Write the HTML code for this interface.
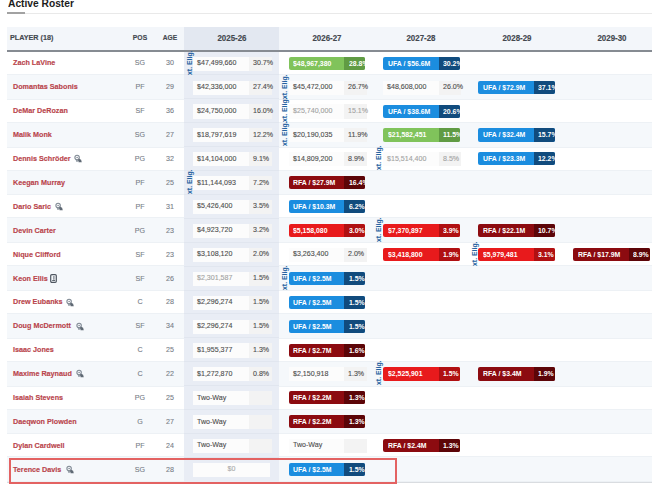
<!DOCTYPE html>
<html><head><meta charset='utf-8'><style>
*{margin:0;padding:0;box-sizing:border-box}
html,body{width:660px;height:490px;overflow:hidden;background:#fff;font-family:"Liberation Sans",sans-serif}
.a{position:absolute}
.t{white-space:nowrap}
.title{left:7.6px;top:-3px;font-size:11px;font-weight:bold;color:#1c1c1c;line-height:12px;transform-origin:0 0;transform:scaleX(0.93)}
.nm{font-size:8px;font-weight:bold;color:#b9444b;line-height:10px;transform-origin:0 50%;transform:scaleX(0.9);-webkit-text-stroke:0.15px #b9444b}
.hd{font-size:8px;font-weight:bold;color:#43484f;line-height:10px;transform-origin:0 50%;transform:scaleX(0.9);-webkit-text-stroke:0.15px #43484f}
.hdc{font-size:8.8px;font-weight:bold;color:#43484f;line-height:10px;transform-origin:50% 50%;transform:scaleX(0.9);-webkit-text-stroke:0.15px #43484f;text-align:center}
.pa{font-size:8px;color:#787e87;line-height:10px;text-align:center;width:30px;transform-origin:50% 50%;transform:scaleX(0.89);-webkit-text-stroke:0.12px #787e87}
.sal{font-size:8px;line-height:10px;transform-origin:0 50%;transform:scaleX(0.885);-webkit-text-stroke:0.12px currentColor}
.bt{font-size:7.8px;font-weight:bold;color:#fff;line-height:10px;transform-origin:0 50%;transform:scaleX(0.885)}
.ext{font-size:6.9px;font-weight:bold;color:#2462a0;line-height:7px;transform-origin:0 0;transform:rotate(-90deg)}
</style></head><body>
<div class="a t title">Active Roster</div>
<div class="a" style="left:7px;top:12px;width:18px;height:2px;background:#a2a2a2"></div>
<div class="a" style="left:25px;top:12.5px;width:627px;height:1px;background:#e9e9e9"></div>
<div class="a" style="left:7px;top:27.4px;width:645px;height:22.6px;background:#f3f6fa"></div>
<div class="a" style="left:184px;top:27.4px;width:95.4px;height:22.6px;background:#e3e8f1"></div>
<div class="a t hd" style="left:9.5px;top:32.9px">PLAYER (18)</div>
<div class="a t hdc" style="left:125px;top:32.9px;width:30px;font-size:7.8px;transform:scaleX(0.87)">POS</div>
<div class="a t hdc" style="left:155px;top:32.9px;width:30px;font-size:7.8px;transform:scaleX(0.85)">AGE</div>
<div class="a t hdc" style="left:184.70px;top:32.9px;width:94px">2025-26</div>
<div class="a t hdc" style="left:279.90px;top:32.9px;width:94px">2026-27</div>
<div class="a t hdc" style="left:374.40px;top:32.9px;width:94px">2027-28</div>
<div class="a t hdc" style="left:469.70px;top:32.9px;width:94px">2028-29</div>
<div class="a t hdc" style="left:564.50px;top:32.9px;width:94px">2029-30</div>
<div class="a" style="left:7px;top:52px;width:645px;height:430.20px;background:#fff"></div>
<div class="a" style="left:7px;top:73.95px;width:645px;height:25.90px;background:#f5f8fb;border-top:1px solid #edf1f5;border-bottom:1px solid #edf1f5"></div>
<div class="a" style="left:7px;top:121.75px;width:645px;height:25.90px;background:#f5f8fb;border-top:1px solid #edf1f5;border-bottom:1px solid #edf1f5"></div>
<div class="a" style="left:7px;top:169.55px;width:645px;height:25.90px;background:#f5f8fb;border-top:1px solid #edf1f5;border-bottom:1px solid #edf1f5"></div>
<div class="a" style="left:7px;top:217.35px;width:645px;height:25.90px;background:#f5f8fb;border-top:1px solid #edf1f5;border-bottom:1px solid #edf1f5"></div>
<div class="a" style="left:7px;top:265.15px;width:645px;height:25.90px;background:#f5f8fb;border-top:1px solid #edf1f5;border-bottom:1px solid #edf1f5"></div>
<div class="a" style="left:7px;top:312.95px;width:645px;height:25.90px;background:#f5f8fb;border-top:1px solid #edf1f5;border-bottom:1px solid #edf1f5"></div>
<div class="a" style="left:7px;top:360.75px;width:645px;height:25.90px;background:#f5f8fb;border-top:1px solid #edf1f5;border-bottom:1px solid #edf1f5"></div>
<div class="a" style="left:7px;top:408.55px;width:645px;height:25.90px;background:#f5f8fb;border-top:1px solid #edf1f5;border-bottom:1px solid #edf1f5"></div>
<div class="a" style="left:7px;top:456.35px;width:645px;height:25.90px;background:#f5f8fb;border-top:1px solid #edf1f5;border-bottom:1px solid #edf1f5"></div>
<div class="a" style="left:184px;top:52px;width:95.4px;height:430.20px;background:#e9edf5"></div>
<div class="a" style="left:184px;top:74.45px;width:95.4px;height:1px;background:#e1e6ef"></div>
<div class="a" style="left:184px;top:98.35px;width:95.4px;height:1px;background:#e1e6ef"></div>
<div class="a" style="left:184px;top:122.25px;width:95.4px;height:1px;background:#e1e6ef"></div>
<div class="a" style="left:184px;top:146.15px;width:95.4px;height:1px;background:#e1e6ef"></div>
<div class="a" style="left:184px;top:170.05px;width:95.4px;height:1px;background:#e1e6ef"></div>
<div class="a" style="left:184px;top:193.95px;width:95.4px;height:1px;background:#e1e6ef"></div>
<div class="a" style="left:184px;top:217.85px;width:95.4px;height:1px;background:#e1e6ef"></div>
<div class="a" style="left:184px;top:241.75px;width:95.4px;height:1px;background:#e1e6ef"></div>
<div class="a" style="left:184px;top:265.65px;width:95.4px;height:1px;background:#e1e6ef"></div>
<div class="a" style="left:184px;top:289.55px;width:95.4px;height:1px;background:#e1e6ef"></div>
<div class="a" style="left:184px;top:313.45px;width:95.4px;height:1px;background:#e1e6ef"></div>
<div class="a" style="left:184px;top:337.35px;width:95.4px;height:1px;background:#e1e6ef"></div>
<div class="a" style="left:184px;top:361.25px;width:95.4px;height:1px;background:#e1e6ef"></div>
<div class="a" style="left:184px;top:385.15px;width:95.4px;height:1px;background:#e1e6ef"></div>
<div class="a" style="left:184px;top:409.05px;width:95.4px;height:1px;background:#e1e6ef"></div>
<div class="a" style="left:184px;top:432.95px;width:95.4px;height:1px;background:#e1e6ef"></div>
<div class="a" style="left:184px;top:456.85px;width:95.4px;height:1px;background:#e1e6ef"></div>
<div class="a" style="left:7px;top:50px;width:645px;height:2px;background:#868b92"></div>
<div class="a" style="left:7px;top:481.85px;width:645px;height:1px;background:#d9dce0"></div>
<div class="a t nm" style="left:13px;top:58.45px">Zach LaVine</div>
<div class="a t pa" style="left:125px;top:58.45px">SG</div>
<div class="a t pa" style="left:155px;top:58.45px">30</div>
<div class="a" style="left:193.30px;top:56.65px;width:55.8px;height:14.1px;background:#fcfcfc"></div>
<div class="a" style="left:249.10px;top:56.65px;width:22.6px;height:14.1px;background:#f3f3f3"></div>
<div class="a t sal" style="left:197.30px;top:58.05px;color:#4d4d4d">$47,499,660</div>
<div class="a t sal" style="left:252.90px;top:58.05px;color:#4d4d4d">30.7%</div>
<div class="a" style="left:288.50px;top:56.75px;width:76.6px;height:13.1px;background:#80c35b;border-radius:2px;overflow:hidden"><div class="a" style="left:55.8px;top:0;width:21px;height:13.1px;background:#609b44"></div><div class="a t bt" style="left:4.6px;top:2.0px">$48,967,380</div><div class="a t bt" style="left:60.2px;top:2.0px">28.8%</div></div>
<div class="a" style="left:383.00px;top:56.75px;width:76.6px;height:13.1px;background:#1b8ddf;border-radius:2px;overflow:hidden"><div class="a" style="left:55.8px;top:0;width:21px;height:13.1px;background:#114b7d"></div><div class="a t bt" style="left:4.6px;top:2.0px">UFA / $56.6M</div><div class="a t bt" style="left:60.2px;top:2.0px">30.2%</div></div>
<div class="a t nm" style="left:13px;top:82.35px">Domantas Sabonis</div>
<div class="a t pa" style="left:125px;top:82.35px">PF</div>
<div class="a t pa" style="left:155px;top:82.35px">29</div>
<div class="a" style="left:193.30px;top:80.55px;width:55.8px;height:14.1px;background:#fcfcfc"></div>
<div class="a" style="left:249.10px;top:80.55px;width:22.6px;height:14.1px;background:#f3f3f3"></div>
<div class="a t sal" style="left:197.30px;top:81.95px;color:#4d4d4d">$42,336,000</div>
<div class="a t sal" style="left:252.90px;top:81.95px;color:#4d4d4d">27.4%</div>
<div class="a" style="left:288.50px;top:80.55px;width:55.8px;height:14.1px;background:#fcfcfc"></div>
<div class="a" style="left:344.30px;top:80.55px;width:22.6px;height:14.1px;background:#f3f3f3"></div>
<div class="a t sal" style="left:292.50px;top:81.95px;color:#4d4d4d">$45,472,000</div>
<div class="a t sal" style="left:348.10px;top:81.95px;color:#4d4d4d">26.7%</div>
<div class="a" style="left:383.00px;top:80.55px;width:55.8px;height:14.1px;background:#fcfcfc"></div>
<div class="a" style="left:438.80px;top:80.55px;width:22.6px;height:14.1px;background:#f3f3f3"></div>
<div class="a t sal" style="left:387.00px;top:81.95px;color:#4d4d4d">$48,608,000</div>
<div class="a t sal" style="left:442.60px;top:81.95px;color:#4d4d4d">26.0%</div>
<div class="a" style="left:478.30px;top:80.65px;width:76.6px;height:13.1px;background:#1b8ddf;border-radius:2px;overflow:hidden"><div class="a" style="left:55.8px;top:0;width:21px;height:13.1px;background:#114b7d"></div><div class="a t bt" style="left:4.6px;top:2.0px">UFA / $72.9M</div><div class="a t bt" style="left:60.2px;top:2.0px">37.1%</div></div>
<div class="a t nm" style="left:13px;top:106.25px">DeMar DeRozan</div>
<div class="a t pa" style="left:125px;top:106.25px">SF</div>
<div class="a t pa" style="left:155px;top:106.25px">36</div>
<div class="a" style="left:193.30px;top:104.45px;width:55.8px;height:14.1px;background:#fcfcfc"></div>
<div class="a" style="left:249.10px;top:104.45px;width:22.6px;height:14.1px;background:#f3f3f3"></div>
<div class="a t sal" style="left:197.30px;top:105.85px;color:#4d4d4d">$24,750,000</div>
<div class="a t sal" style="left:252.90px;top:105.85px;color:#4d4d4d">16.0%</div>
<div class="a" style="left:288.50px;top:104.45px;width:55.8px;height:14.1px;background:#fcfcfc"></div>
<div class="a" style="left:344.30px;top:104.45px;width:22.6px;height:14.1px;background:#f3f3f3"></div>
<div class="a t sal" style="left:292.50px;top:105.85px;color:#a2a2a2">$25,740,000</div>
<div class="a t sal" style="left:348.10px;top:105.85px;color:#a2a2a2">15.1%</div>
<div class="a" style="left:383.00px;top:104.55px;width:76.6px;height:13.1px;background:#1b8ddf;border-radius:2px;overflow:hidden"><div class="a" style="left:55.8px;top:0;width:21px;height:13.1px;background:#114b7d"></div><div class="a t bt" style="left:4.6px;top:2.0px">UFA / $38.6M</div><div class="a t bt" style="left:60.2px;top:2.0px">20.6%</div></div>
<div class="a t nm" style="left:13px;top:130.15px">Malik Monk</div>
<div class="a t pa" style="left:125px;top:130.15px">SG</div>
<div class="a t pa" style="left:155px;top:130.15px">27</div>
<div class="a" style="left:193.30px;top:128.35px;width:55.8px;height:14.1px;background:#fcfcfc"></div>
<div class="a" style="left:249.10px;top:128.35px;width:22.6px;height:14.1px;background:#f3f3f3"></div>
<div class="a t sal" style="left:197.30px;top:129.75px;color:#4d4d4d">$18,797,619</div>
<div class="a t sal" style="left:252.90px;top:129.75px;color:#4d4d4d">12.2%</div>
<div class="a" style="left:288.50px;top:128.35px;width:55.8px;height:14.1px;background:#fcfcfc"></div>
<div class="a" style="left:344.30px;top:128.35px;width:22.6px;height:14.1px;background:#f3f3f3"></div>
<div class="a t sal" style="left:292.50px;top:129.75px;color:#4d4d4d">$20,190,035</div>
<div class="a t sal" style="left:348.10px;top:129.75px;color:#4d4d4d">11.9%</div>
<div class="a" style="left:383.00px;top:128.45px;width:76.6px;height:13.1px;background:#80c35b;border-radius:2px;overflow:hidden"><div class="a" style="left:55.8px;top:0;width:21px;height:13.1px;background:#609b44"></div><div class="a t bt" style="left:4.6px;top:2.0px">$21,582,451</div><div class="a t bt" style="left:60.2px;top:2.0px">11.5%</div></div>
<div class="a" style="left:478.30px;top:128.45px;width:76.6px;height:13.1px;background:#1b8ddf;border-radius:2px;overflow:hidden"><div class="a" style="left:55.8px;top:0;width:21px;height:13.1px;background:#114b7d"></div><div class="a t bt" style="left:4.6px;top:2.0px">UFA / $32.4M</div><div class="a t bt" style="left:60.2px;top:2.0px">15.7%</div></div>
<div class="a t nm" style="left:13px;top:154.05px">Dennis Schröder</div>
<svg class="a" style="left:73.6px;top:154.25px" width="9" height="9" viewBox="0 0 9 9"><circle cx="3.1" cy="3.5" r="2.2" fill="none" stroke="#808a95" stroke-width="1.1"/><circle cx="3.1" cy="3.5" r="0.7" fill="#707a85"/><path d="M1.9 5.4L3.0 7.8L4.1 5.6" fill="none" stroke="#808a95" stroke-width="0.9"/><path d="M4.6 4.5L7.1 5.8L7.8 8.3L4.6 8.3L4.2 6.2Z" fill="#5f6974"/></svg>
<div class="a t pa" style="left:125px;top:154.05px">PG</div>
<div class="a t pa" style="left:155px;top:154.05px">32</div>
<div class="a" style="left:193.30px;top:152.25px;width:55.8px;height:14.1px;background:#fcfcfc"></div>
<div class="a" style="left:249.10px;top:152.25px;width:22.6px;height:14.1px;background:#f3f3f3"></div>
<div class="a t sal" style="left:197.30px;top:153.65px;color:#4d4d4d">$14,104,000</div>
<div class="a t sal" style="left:252.90px;top:153.65px;color:#4d4d4d">9.1%</div>
<div class="a" style="left:288.50px;top:152.25px;width:55.8px;height:14.1px;background:#fcfcfc"></div>
<div class="a" style="left:344.30px;top:152.25px;width:22.6px;height:14.1px;background:#f3f3f3"></div>
<div class="a t sal" style="left:292.50px;top:153.65px;color:#4d4d4d">$14,809,200</div>
<div class="a t sal" style="left:348.10px;top:153.65px;color:#4d4d4d">8.9%</div>
<div class="a" style="left:383.00px;top:152.25px;width:55.8px;height:14.1px;background:#fcfcfc"></div>
<div class="a" style="left:438.80px;top:152.25px;width:22.6px;height:14.1px;background:#f3f3f3"></div>
<div class="a t sal" style="left:387.00px;top:153.65px;color:#a2a2a2">$15,514,400</div>
<div class="a t sal" style="left:442.60px;top:153.65px;color:#a2a2a2">8.5%</div>
<div class="a" style="left:478.30px;top:152.35px;width:76.6px;height:13.1px;background:#1b8ddf;border-radius:2px;overflow:hidden"><div class="a" style="left:55.8px;top:0;width:21px;height:13.1px;background:#114b7d"></div><div class="a t bt" style="left:4.6px;top:2.0px">UFA / $23.3M</div><div class="a t bt" style="left:60.2px;top:2.0px">12.2%</div></div>
<div class="a t nm" style="left:13px;top:177.95px">Keegan Murray</div>
<div class="a t pa" style="left:125px;top:177.95px">PF</div>
<div class="a t pa" style="left:155px;top:177.95px">25</div>
<div class="a" style="left:193.30px;top:176.15px;width:55.8px;height:14.1px;background:#fcfcfc"></div>
<div class="a" style="left:249.10px;top:176.15px;width:22.6px;height:14.1px;background:#f3f3f3"></div>
<div class="a t sal" style="left:197.30px;top:177.55px;color:#4d4d4d">$11,144,093</div>
<div class="a t sal" style="left:252.90px;top:177.55px;color:#4d4d4d">7.2%</div>
<div class="a" style="left:288.50px;top:176.25px;width:76.6px;height:13.1px;background:#8c0b10;border-radius:2px;overflow:hidden"><div class="a" style="left:55.8px;top:0;width:21px;height:13.1px;background:#5c0508"></div><div class="a t bt" style="left:4.6px;top:2.0px">RFA / $27.9M</div><div class="a t bt" style="left:60.2px;top:2.0px">16.4%</div></div>
<div class="a t nm" style="left:13px;top:201.85px">Dario Saric</div>
<svg class="a" style="left:54.8px;top:202.05px" width="9" height="9" viewBox="0 0 9 9"><circle cx="3.1" cy="3.5" r="2.2" fill="none" stroke="#808a95" stroke-width="1.1"/><circle cx="3.1" cy="3.5" r="0.7" fill="#707a85"/><path d="M1.9 5.4L3.0 7.8L4.1 5.6" fill="none" stroke="#808a95" stroke-width="0.9"/><path d="M4.6 4.5L7.1 5.8L7.8 8.3L4.6 8.3L4.2 6.2Z" fill="#5f6974"/></svg>
<div class="a t pa" style="left:125px;top:201.85px">PF</div>
<div class="a t pa" style="left:155px;top:201.85px">31</div>
<div class="a" style="left:193.30px;top:200.05px;width:55.8px;height:14.1px;background:#fcfcfc"></div>
<div class="a" style="left:249.10px;top:200.05px;width:22.6px;height:14.1px;background:#f3f3f3"></div>
<div class="a t sal" style="left:197.30px;top:201.45px;color:#4d4d4d">$5,426,400</div>
<div class="a t sal" style="left:252.90px;top:201.45px;color:#4d4d4d">3.5%</div>
<div class="a" style="left:288.50px;top:200.15px;width:76.6px;height:13.1px;background:#1b8ddf;border-radius:2px;overflow:hidden"><div class="a" style="left:55.8px;top:0;width:21px;height:13.1px;background:#114b7d"></div><div class="a t bt" style="left:4.6px;top:2.0px">UFA / $10.3M</div><div class="a t bt" style="left:60.2px;top:2.0px">6.2%</div></div>
<div class="a t nm" style="left:13px;top:225.75px">Devin Carter</div>
<div class="a t pa" style="left:125px;top:225.75px">PG</div>
<div class="a t pa" style="left:155px;top:225.75px">23</div>
<div class="a" style="left:193.30px;top:223.95px;width:55.8px;height:14.1px;background:#fcfcfc"></div>
<div class="a" style="left:249.10px;top:223.95px;width:22.6px;height:14.1px;background:#f3f3f3"></div>
<div class="a t sal" style="left:197.30px;top:225.35px;color:#4d4d4d">$4,923,720</div>
<div class="a t sal" style="left:252.90px;top:225.35px;color:#4d4d4d">3.2%</div>
<div class="a" style="left:288.50px;top:224.05px;width:76.6px;height:13.1px;background:#e81a1c;border-radius:2px;overflow:hidden"><div class="a" style="left:55.8px;top:0;width:21px;height:13.1px;background:#b01012"></div><div class="a t bt" style="left:4.6px;top:2.0px">$5,158,080</div><div class="a t bt" style="left:60.2px;top:2.0px">3.0%</div></div>
<div class="a" style="left:383.00px;top:224.05px;width:76.6px;height:13.1px;background:#e81a1c;border-radius:2px;overflow:hidden"><div class="a" style="left:55.8px;top:0;width:21px;height:13.1px;background:#b01012"></div><div class="a t bt" style="left:4.6px;top:2.0px">$7,370,897</div><div class="a t bt" style="left:60.2px;top:2.0px">3.9%</div></div>
<div class="a" style="left:478.30px;top:224.05px;width:76.6px;height:13.1px;background:#8c0b10;border-radius:2px;overflow:hidden"><div class="a" style="left:55.8px;top:0;width:21px;height:13.1px;background:#5c0508"></div><div class="a t bt" style="left:4.6px;top:2.0px">RFA / $22.1M</div><div class="a t bt" style="left:60.2px;top:2.0px">10.7%</div></div>
<div class="a t nm" style="left:13px;top:249.65px">Nique Clifford</div>
<div class="a t pa" style="left:125px;top:249.65px">SF</div>
<div class="a t pa" style="left:155px;top:249.65px">23</div>
<div class="a" style="left:193.30px;top:247.85px;width:55.8px;height:14.1px;background:#fcfcfc"></div>
<div class="a" style="left:249.10px;top:247.85px;width:22.6px;height:14.1px;background:#f3f3f3"></div>
<div class="a t sal" style="left:197.30px;top:249.25px;color:#4d4d4d">$3,108,120</div>
<div class="a t sal" style="left:252.90px;top:249.25px;color:#4d4d4d">2.0%</div>
<div class="a" style="left:288.50px;top:247.85px;width:55.8px;height:14.1px;background:#fcfcfc"></div>
<div class="a" style="left:344.30px;top:247.85px;width:22.6px;height:14.1px;background:#f3f3f3"></div>
<div class="a t sal" style="left:292.50px;top:249.25px;color:#4d4d4d">$3,263,400</div>
<div class="a t sal" style="left:348.10px;top:249.25px;color:#4d4d4d">2.0%</div>
<div class="a" style="left:383.00px;top:247.95px;width:76.6px;height:13.1px;background:#e81a1c;border-radius:2px;overflow:hidden"><div class="a" style="left:55.8px;top:0;width:21px;height:13.1px;background:#b01012"></div><div class="a t bt" style="left:4.6px;top:2.0px">$3,418,800</div><div class="a t bt" style="left:60.2px;top:2.0px">1.9%</div></div>
<div class="a" style="left:478.30px;top:247.95px;width:76.6px;height:13.1px;background:#e81a1c;border-radius:2px;overflow:hidden"><div class="a" style="left:55.8px;top:0;width:21px;height:13.1px;background:#b01012"></div><div class="a t bt" style="left:4.6px;top:2.0px">$5,979,481</div><div class="a t bt" style="left:60.2px;top:2.0px">3.1%</div></div>
<div class="a" style="left:573.10px;top:247.95px;width:76.6px;height:13.1px;background:#8c0b10;border-radius:2px;overflow:hidden"><div class="a" style="left:55.8px;top:0;width:21px;height:13.1px;background:#5c0508"></div><div class="a t bt" style="left:4.6px;top:2.0px">RFA / $17.9M</div><div class="a t bt" style="left:60.2px;top:2.0px">8.9%</div></div>
<div class="a t nm" style="left:13px;top:273.55px">Keon Ellis</div>
<svg class="a" style="left:50.3px;top:273.75px" width="8" height="10" viewBox="0 0 8 10"><rect x="0.7" y="0.7" width="5.6" height="7.6" rx="1.1" fill="none" stroke="#4f5761" stroke-width="1.2"/><path d="M3.9 2v3.8M2.2 6.5h2.9" stroke="#4f5761" stroke-width="0.9"/></svg>
<div class="a t pa" style="left:125px;top:273.55px">SF</div>
<div class="a t pa" style="left:155px;top:273.55px">26</div>
<div class="a" style="left:193.30px;top:271.75px;width:55.8px;height:14.1px;background:#fcfcfc"></div>
<div class="a" style="left:249.10px;top:271.75px;width:22.6px;height:14.1px;background:#f3f3f3"></div>
<div class="a t sal" style="left:197.30px;top:273.15px;color:#a2a2a2">$2,301,587</div>
<div class="a t sal" style="left:252.90px;top:273.15px;color:#4d4d4d">1.5%</div>
<div class="a" style="left:288.50px;top:271.85px;width:76.6px;height:13.1px;background:#1b8ddf;border-radius:2px;overflow:hidden"><div class="a" style="left:55.8px;top:0;width:21px;height:13.1px;background:#114b7d"></div><div class="a t bt" style="left:4.6px;top:2.0px">UFA / $2.5M</div><div class="a t bt" style="left:60.2px;top:2.0px">1.5%</div></div>
<div class="a t nm" style="left:13px;top:297.45px">Drew Eubanks</div>
<svg class="a" style="left:65.7px;top:297.65px" width="9" height="9" viewBox="0 0 9 9"><circle cx="3.1" cy="3.5" r="2.2" fill="none" stroke="#808a95" stroke-width="1.1"/><circle cx="3.1" cy="3.5" r="0.7" fill="#707a85"/><path d="M1.9 5.4L3.0 7.8L4.1 5.6" fill="none" stroke="#808a95" stroke-width="0.9"/><path d="M4.6 4.5L7.1 5.8L7.8 8.3L4.6 8.3L4.2 6.2Z" fill="#5f6974"/></svg>
<div class="a t pa" style="left:125px;top:297.45px">C</div>
<div class="a t pa" style="left:155px;top:297.45px">28</div>
<div class="a" style="left:193.30px;top:295.65px;width:55.8px;height:14.1px;background:#fcfcfc"></div>
<div class="a" style="left:249.10px;top:295.65px;width:22.6px;height:14.1px;background:#f3f3f3"></div>
<div class="a t sal" style="left:197.30px;top:297.05px;color:#4d4d4d">$2,296,274</div>
<div class="a t sal" style="left:252.90px;top:297.05px;color:#4d4d4d">1.5%</div>
<div class="a" style="left:288.50px;top:295.75px;width:76.6px;height:13.1px;background:#1b8ddf;border-radius:2px;overflow:hidden"><div class="a" style="left:55.8px;top:0;width:21px;height:13.1px;background:#114b7d"></div><div class="a t bt" style="left:4.6px;top:2.0px">UFA / $2.5M</div><div class="a t bt" style="left:60.2px;top:2.0px">1.5%</div></div>
<div class="a t nm" style="left:13px;top:321.35px">Doug McDermott</div>
<svg class="a" style="left:75.5px;top:321.55px" width="9" height="9" viewBox="0 0 9 9"><circle cx="3.1" cy="3.5" r="2.2" fill="none" stroke="#808a95" stroke-width="1.1"/><circle cx="3.1" cy="3.5" r="0.7" fill="#707a85"/><path d="M1.9 5.4L3.0 7.8L4.1 5.6" fill="none" stroke="#808a95" stroke-width="0.9"/><path d="M4.6 4.5L7.1 5.8L7.8 8.3L4.6 8.3L4.2 6.2Z" fill="#5f6974"/></svg>
<div class="a t pa" style="left:125px;top:321.35px">SF</div>
<div class="a t pa" style="left:155px;top:321.35px">34</div>
<div class="a" style="left:193.30px;top:319.55px;width:55.8px;height:14.1px;background:#fcfcfc"></div>
<div class="a" style="left:249.10px;top:319.55px;width:22.6px;height:14.1px;background:#f3f3f3"></div>
<div class="a t sal" style="left:197.30px;top:320.95px;color:#4d4d4d">$2,296,274</div>
<div class="a t sal" style="left:252.90px;top:320.95px;color:#4d4d4d">1.5%</div>
<div class="a" style="left:288.50px;top:319.65px;width:76.6px;height:13.1px;background:#1b8ddf;border-radius:2px;overflow:hidden"><div class="a" style="left:55.8px;top:0;width:21px;height:13.1px;background:#114b7d"></div><div class="a t bt" style="left:4.6px;top:2.0px">UFA / $2.5M</div><div class="a t bt" style="left:60.2px;top:2.0px">1.5%</div></div>
<div class="a t nm" style="left:13px;top:345.25px">Isaac Jones</div>
<div class="a t pa" style="left:125px;top:345.25px">C</div>
<div class="a t pa" style="left:155px;top:345.25px">25</div>
<div class="a" style="left:193.30px;top:343.45px;width:55.8px;height:14.1px;background:#fcfcfc"></div>
<div class="a" style="left:249.10px;top:343.45px;width:22.6px;height:14.1px;background:#f3f3f3"></div>
<div class="a t sal" style="left:197.30px;top:344.85px;color:#4d4d4d">$1,955,377</div>
<div class="a t sal" style="left:252.90px;top:344.85px;color:#4d4d4d">1.3%</div>
<div class="a" style="left:288.50px;top:343.55px;width:76.6px;height:13.1px;background:#8c0b10;border-radius:2px;overflow:hidden"><div class="a" style="left:55.8px;top:0;width:21px;height:13.1px;background:#5c0508"></div><div class="a t bt" style="left:4.6px;top:2.0px">RFA / $2.7M</div><div class="a t bt" style="left:60.2px;top:2.0px">1.6%</div></div>
<div class="a t nm" style="left:13px;top:369.15px">Maxime Raynaud</div>
<svg class="a" style="left:76.4px;top:369.35px" width="9" height="9" viewBox="0 0 9 9"><circle cx="3.1" cy="3.5" r="2.2" fill="none" stroke="#808a95" stroke-width="1.1"/><circle cx="3.1" cy="3.5" r="0.7" fill="#707a85"/><path d="M1.9 5.4L3.0 7.8L4.1 5.6" fill="none" stroke="#808a95" stroke-width="0.9"/><path d="M4.6 4.5L7.1 5.8L7.8 8.3L4.6 8.3L4.2 6.2Z" fill="#5f6974"/></svg>
<div class="a t pa" style="left:125px;top:369.15px">C</div>
<div class="a t pa" style="left:155px;top:369.15px">22</div>
<div class="a" style="left:193.30px;top:367.35px;width:55.8px;height:14.1px;background:#fcfcfc"></div>
<div class="a" style="left:249.10px;top:367.35px;width:22.6px;height:14.1px;background:#f3f3f3"></div>
<div class="a t sal" style="left:197.30px;top:368.75px;color:#4d4d4d">$1,272,870</div>
<div class="a t sal" style="left:252.90px;top:368.75px;color:#4d4d4d">0.8%</div>
<div class="a" style="left:288.50px;top:367.35px;width:55.8px;height:14.1px;background:#fcfcfc"></div>
<div class="a" style="left:344.30px;top:367.35px;width:22.6px;height:14.1px;background:#f3f3f3"></div>
<div class="a t sal" style="left:292.50px;top:368.75px;color:#4d4d4d">$2,150,918</div>
<div class="a t sal" style="left:348.10px;top:368.75px;color:#4d4d4d">1.3%</div>
<div class="a" style="left:383.00px;top:367.45px;width:76.6px;height:13.1px;background:#e81a1c;border-radius:2px;overflow:hidden"><div class="a" style="left:55.8px;top:0;width:21px;height:13.1px;background:#b01012"></div><div class="a t bt" style="left:4.6px;top:2.0px">$2,525,901</div><div class="a t bt" style="left:60.2px;top:2.0px">1.5%</div></div>
<div class="a" style="left:478.30px;top:367.45px;width:76.6px;height:13.1px;background:#8c0b10;border-radius:2px;overflow:hidden"><div class="a" style="left:55.8px;top:0;width:21px;height:13.1px;background:#5c0508"></div><div class="a t bt" style="left:4.6px;top:2.0px">RFA / $3.4M</div><div class="a t bt" style="left:60.2px;top:2.0px">1.9%</div></div>
<div class="a t nm" style="left:13px;top:393.05px">Isaiah Stevens</div>
<div class="a t pa" style="left:125px;top:393.05px">PG</div>
<div class="a t pa" style="left:155px;top:393.05px">25</div>
<div class="a" style="left:193.30px;top:391.25px;width:55.8px;height:14.1px;background:#fcfcfc"></div>
<div class="a" style="left:249.10px;top:391.25px;width:22.6px;height:14.1px;background:#f3f3f3"></div>
<div class="a t sal" style="left:197.30px;top:392.65px;color:#4d4d4d">Two-Way</div>
<div class="a" style="left:288.50px;top:391.35px;width:76.6px;height:13.1px;background:#8c0b10;border-radius:2px;overflow:hidden"><div class="a" style="left:55.8px;top:0;width:21px;height:13.1px;background:#5c0508"></div><div class="a t bt" style="left:4.6px;top:2.0px">RFA / $2.2M</div><div class="a t bt" style="left:60.2px;top:2.0px">1.3%</div></div>
<div class="a t nm" style="left:13px;top:416.95px">Daeqwon Plowden</div>
<div class="a t pa" style="left:125px;top:416.95px">G</div>
<div class="a t pa" style="left:155px;top:416.95px">27</div>
<div class="a" style="left:193.30px;top:415.15px;width:55.8px;height:14.1px;background:#fcfcfc"></div>
<div class="a" style="left:249.10px;top:415.15px;width:22.6px;height:14.1px;background:#f3f3f3"></div>
<div class="a t sal" style="left:197.30px;top:416.55px;color:#4d4d4d">Two-Way</div>
<div class="a" style="left:288.50px;top:415.25px;width:76.6px;height:13.1px;background:#8c0b10;border-radius:2px;overflow:hidden"><div class="a" style="left:55.8px;top:0;width:21px;height:13.1px;background:#5c0508"></div><div class="a t bt" style="left:4.6px;top:2.0px">RFA / $2.2M</div><div class="a t bt" style="left:60.2px;top:2.0px">1.3%</div></div>
<div class="a t nm" style="left:13px;top:440.85px">Dylan Cardwell</div>
<div class="a t pa" style="left:125px;top:440.85px">PF</div>
<div class="a t pa" style="left:155px;top:440.85px">24</div>
<div class="a" style="left:193.30px;top:439.05px;width:55.8px;height:14.1px;background:#fcfcfc"></div>
<div class="a" style="left:249.10px;top:439.05px;width:22.6px;height:14.1px;background:#f3f3f3"></div>
<div class="a t sal" style="left:197.30px;top:440.45px;color:#4d4d4d">Two-Way</div>
<div class="a" style="left:288.50px;top:439.05px;width:55.8px;height:14.1px;background:#fcfcfc"></div>
<div class="a" style="left:344.30px;top:439.05px;width:22.6px;height:14.1px;background:#f3f3f3"></div>
<div class="a t sal" style="left:292.50px;top:440.45px;color:#4d4d4d">Two-Way</div>
<div class="a" style="left:383.00px;top:439.15px;width:76.6px;height:13.1px;background:#8c0b10;border-radius:2px;overflow:hidden"><div class="a" style="left:55.8px;top:0;width:21px;height:13.1px;background:#5c0508"></div><div class="a t bt" style="left:4.6px;top:2.0px">RFA / $2.4M</div><div class="a t bt" style="left:60.2px;top:2.0px">1.3%</div></div>
<div class="a t nm" style="left:13px;top:464.75px">Terence Davis</div>
<svg class="a" style="left:65.9px;top:464.95px" width="9" height="9" viewBox="0 0 9 9"><circle cx="3.1" cy="3.5" r="2.2" fill="none" stroke="#808a95" stroke-width="1.1"/><circle cx="3.1" cy="3.5" r="0.7" fill="#707a85"/><path d="M1.9 5.4L3.0 7.8L4.1 5.6" fill="none" stroke="#808a95" stroke-width="0.9"/><path d="M4.6 4.5L7.1 5.8L7.8 8.3L4.6 8.3L4.2 6.2Z" fill="#5f6974"/></svg>
<div class="a t pa" style="left:125px;top:464.75px">SG</div>
<div class="a t pa" style="left:155px;top:464.75px">28</div>
<div class="a" style="left:193.30px;top:462.95px;width:77px;height:14.1px;background:#fcfcfc"></div>
<div class="a t sal" style="left:193.30px;top:464.35px;width:77px;text-align:center;color:#aaaaaa;transform-origin:50% 50%">$0</div>
<div class="a" style="left:288.50px;top:463.05px;width:76.6px;height:13.1px;background:#1b8ddf;border-radius:2px;overflow:hidden"><div class="a" style="left:55.8px;top:0;width:21px;height:13.1px;background:#114b7d"></div><div class="a t bt" style="left:4.6px;top:2.0px">UFA / $2.5M</div><div class="a t bt" style="left:60.2px;top:2.0px">1.5%</div></div>
<div class="a t ext" style="left:186.40px;top:74.65px">xt. Elig.</div>
<div class="a t ext" style="left:280.70px;top:98.55px">xt. Elig.</div>
<div class="a t ext" style="left:280.70px;top:122.45px">xt. Elig.</div>
<div class="a t ext" style="left:280.70px;top:146.35px">xt. Elig.</div>
<div class="a t ext" style="left:375.20px;top:170.25px">xt. Elig.</div>
<div class="a t ext" style="left:186.40px;top:194.15px">xt. Elig.</div>
<div class="a t ext" style="left:375.20px;top:241.95px">xt. Elig.</div>
<div class="a t ext" style="left:470.50px;top:265.85px">xt. Elig.</div>
<div class="a t ext" style="left:280.70px;top:289.75px">xt. Elig.</div>
<div class="a t ext" style="left:375.20px;top:385.35px">xt. Elig.</div>
<div class="a" style="left:8.5px;top:458px;width:388.5px;height:26px;border:2px solid #e36262"></div>
</body></html>
